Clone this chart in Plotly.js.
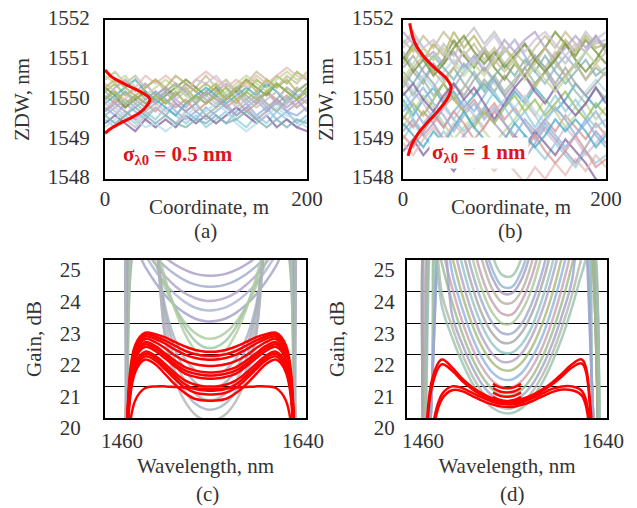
<!DOCTYPE html>
<html><head><meta charset="utf-8">
<script src="https://cdn.plot.ly/plotly-3.0.1.min.js"></script>
<style>html,body{margin:0;padding:0;background:#fff;}#chart{width:637px;height:508px;}</style>
</head><body><div id="chart"></div>
<script>
// ---------- panel (a),(b): ZDW along coordinate ----------
const coordM = [0,10,20,30,40,50,60,70,80,90,100,110,120,130,140,150,160,170,180,190,200];
const zdwA = [
[1550.2,1550.4,1550.1,1550.3,1550.0,1550.2,1549.9,1550.1,1550.3,1550.0,1550.2,1550.4,1550.1,1549.9,1550.2,1550.5,1550.3,1550.6,1550.4,1550.7,1550.5],
[1549.8,1549.6,1549.9,1549.7,1549.5,1549.8,1549.6,1549.9,1549.7,1549.5,1549.8,1549.6,1549.4,1549.7,1549.9,1549.6,1549.8,1549.5,1549.7,1549.4,1549.6],
[1550.0,1550.3,1550.5,1550.2,1550.4,1550.1,1550.3,1550.0,1549.8,1550.1,1549.9,1550.2,1550.4,1550.2,1549.9,1550.1,1549.8,1550.0,1549.7,1549.9,1550.1],
[1550.5,1550.7,1550.4,1550.6,1550.3,1550.5,1550.2,1550.4,1550.1,1550.3,1550.6,1550.3,1550.5,1550.2,1550.4,1550.7,1550.5,1550.3,1550.6,1550.4,1550.7],
[1549.5,1549.3,1549.6,1549.4,1549.7,1549.5,1549.8,1549.6,1549.4,1549.6,1549.3,1549.5,1549.7,1549.5,1549.3,1549.6,1549.4,1549.7,1549.5,1549.3,1549.5],
[1550.1,1549.9,1550.2,1550.0,1549.8,1550.1,1550.3,1550.1,1550.4,1550.2,1550.0,1549.8,1550.0,1550.3,1550.1,1549.9,1550.2,1550.0,1550.3,1550.1,1549.9],
[1549.7,1550.0,1549.8,1550.1,1549.9,1549.7,1550.0,1549.8,1550.0,1549.7,1549.9,1550.1,1549.8,1550.0,1549.7,1549.9,1550.2,1549.9,1550.1,1549.8,1550.0],
[1550.3,1550.1,1549.8,1550.0,1550.2,1549.9,1550.1,1550.3,1550.5,1550.3,1550.1,1550.3,1550.0,1550.2,1550.5,1550.3,1550.1,1550.4,1550.2,1550.0,1550.3],
[1549.4,1549.6,1549.4,1549.2,1549.5,1549.3,1549.5,1549.3,1549.6,1549.4,1549.6,1549.4,1549.6,1549.8,1549.6,1549.4,1549.6,1549.3,1549.5,1549.3,1549.2],
[1549.9,1550.1,1550.3,1550.5,1550.2,1550.0,1549.8,1549.6,1549.9,1550.1,1550.3,1550.1,1549.9,1550.1,1550.3,1550.1,1550.4,1550.2,1549.9,1550.2,1550.4],
[1550.6,1550.4,1550.6,1550.3,1550.1,1550.3,1550.5,1550.3,1550.1,1549.9,1550.2,1550.0,1550.2,1550.4,1550.6,1550.4,1550.2,1550.5,1550.7,1550.5,1550.6],
[1549.6,1549.8,1550.0,1549.8,1550.0,1550.2,1550.0,1549.7,1549.5,1549.7,1549.5,1549.7,1549.9,1549.6,1549.8,1550.0,1549.7,1549.9,1549.7,1549.6,1549.8],
[1550.0,1549.8,1549.6,1549.9,1550.1,1549.9,1549.7,1550.0,1550.2,1550.5,1550.4,1550.6,1550.3,1550.1,1549.9,1550.1,1549.9,1549.7,1549.9,1550.1,1550.2],
[1549.3,1549.5,1549.7,1549.5,1549.3,1549.4,1549.2,1549.4,1549.6,1549.8,1549.7,1549.9,1549.7,1549.4,1549.2,1549.4,1549.6,1549.8,1549.6,1549.5,1549.3],
[1550.4,1550.2,1550.0,1550.3,1550.6,1550.4,1550.6,1550.4,1550.2,1550.5,1550.7,1550.5,1550.3,1550.5,1550.3,1550.6,1550.4,1550.6,1550.8,1550.6,1550.5],
[1549.9,1549.7,1549.5,1549.3,1549.6,1549.8,1549.6,1549.4,1549.7,1549.9,1550.1,1549.9,1550.1,1549.8,1550.0,1549.8,1550.0,1550.2,1550.0,1549.8,1550.0],
[1550.2,1550.0,1550.2,1549.9,1549.7,1549.9,1550.2,1550.4,1550.2,1549.9,1549.6,1549.8,1550.1,1550.3,1550.0,1550.2,1549.9,1549.7,1550.0,1550.3,1550.1],
[1549.7,1549.9,1549.7,1549.5,1549.8,1550.0,1550.2,1549.9,1549.7,1549.9,1550.2,1550.0,1549.8,1549.6,1549.8,1549.5,1549.7,1550.0,1549.8,1550.0,1549.7],
[1550.3,1550.5,1550.3,1550.1,1550.3,1550.5,1550.3,1550.6,1550.4,1550.2,1550.4,1550.2,1550.0,1550.3,1550.5,1550.2,1550.5,1550.3,1550.5,1550.2,1550.4],
[1549.6,1549.4,1549.6,1549.8,1549.6,1549.4,1549.6,1549.4,1549.3,1549.5,1549.4,1549.6,1549.4,1549.5,1549.7,1549.5,1549.3,1549.5,1549.3,1549.5,1549.4],
[1550.0,1550.2,1549.9,1550.1,1549.9,1550.1,1549.9,1550.2,1549.9,1550.1,1549.9,1550.1,1550.3,1550.0,1550.2,1550.0,1550.2,1550.4,1550.2,1550.0,1550.2]
];
const zdwB = [
[1551.5,1551.2,1551.6,1551.3,1551.7,1551.4,1551.1,1551.4,1551.0,1551.3,1550.9,1551.2,1550.9,1551.3,1551.6,1551.3,1551.7,1551.4,1551.2,1551.5,1551.3],
[1549.0,1549.4,1549.1,1548.8,1549.2,1548.9,1548.5,1548.8,1548.4,1548.7,1549.0,1548.7,1549.1,1548.8,1548.5,1548.9,1548.6,1548.3,1548.7,1548.4,1548.6],
[1550.3,1550.7,1550.4,1550.9,1550.5,1550.8,1550.4,1550.1,1550.5,1550.2,1550.6,1550.3,1550.0,1550.4,1550.7,1550.3,1550.6,1550.9,1550.5,1550.8,1550.6],
[1549.6,1549.3,1549.7,1549.4,1549.8,1550.1,1549.7,1550.0,1549.6,1549.9,1549.5,1549.8,1549.4,1549.1,1549.5,1549.2,1549.6,1549.3,1549.0,1549.4,1549.1],
[1551.0,1551.4,1551.1,1550.7,1551.0,1551.5,1551.1,1550.8,1551.2,1550.8,1550.5,1550.9,1550.6,1551.0,1551.3,1551.7,1551.4,1551.1,1551.5,1551.2,1550.9],
[1548.7,1549.0,1548.6,1548.9,1548.5,1548.2,1548.6,1548.3,1548.7,1549.0,1548.7,1549.1,1548.8,1549.2,1548.9,1548.6,1549.0,1548.7,1548.4,1548.0,1547.8],
[1550.0,1549.6,1550.0,1550.3,1549.9,1550.2,1549.8,1550.1,1550.4,1550.1,1549.8,1550.2,1549.9,1550.3,1550.0,1549.7,1550.0,1550.4,1550.1,1549.8,1550.1],
[1549.3,1549.7,1550.1,1549.8,1549.4,1549.0,1549.3,1549.6,1549.2,1548.9,1549.2,1549.5,1549.9,1549.6,1550.0,1549.7,1549.3,1549.6,1549.9,1549.5,1549.8],
[1551.2,1550.8,1550.5,1550.9,1550.6,1550.3,1550.7,1551.0,1551.3,1550.9,1551.2,1551.5,1551.1,1550.7,1550.4,1550.8,1551.1,1550.8,1551.2,1551.6,1551.3],
[1550.6,1550.2,1549.9,1549.5,1549.8,1549.5,1549.9,1549.6,1549.3,1549.7,1550.0,1550.3,1550.0,1549.6,1549.2,1548.9,1549.3,1549.0,1548.6,1548.9,1549.2],
[1549.8,1550.2,1550.6,1550.3,1550.7,1551.0,1550.7,1551.1,1550.8,1550.4,1550.1,1549.8,1550.1,1549.7,1549.4,1549.8,1549.5,1549.8,1550.2,1550.5,1550.2],
[1548.9,1548.6,1549.0,1549.3,1549.0,1549.4,1549.1,1548.8,1548.5,1548.2,1548.5,1548.2,1547.9,1548.3,1548.0,1548.4,1548.1,1548.5,1548.2,1548.6,1548.3],
[1551.4,1551.7,1551.3,1551.0,1551.4,1551.1,1551.5,1551.8,1551.4,1551.7,1551.3,1551.0,1551.4,1551.1,1550.8,1551.2,1550.9,1551.3,1551.7,1551.4,1551.5],
[1550.5,1550.1,1550.5,1550.1,1550.4,1550.0,1550.3,1550.7,1550.3,1550.6,1550.2,1550.5,1550.8,1550.4,1550.7,1551.0,1550.6,1550.2,1549.9,1550.3,1550.0],
[1549.2,1549.5,1549.1,1549.4,1549.0,1548.7,1549.1,1549.4,1549.8,1549.4,1549.1,1548.8,1548.5,1548.9,1549.3,1549.0,1548.7,1548.4,1548.8,1549.2,1548.9],
[1550.9,1551.3,1551.0,1551.4,1551.1,1551.7,1551.3,1551.6,1551.2,1550.9,1551.3,1551.0,1550.6,1550.3,1550.7,1551.1,1551.5,1551.2,1551.6,1551.3,1551.4],
[1550.7,1550.4,1550.8,1551.1,1550.8,1550.5,1550.9,1550.6,1550.2,1550.6,1550.9,1550.6,1551.0,1550.7,1551.1,1550.7,1550.4,1550.7,1551.0,1550.6,1550.8],
[1549.5,1549.9,1549.6,1550.0,1550.4,1550.0,1549.7,1549.3,1549.7,1549.4,1549.8,1550.1,1549.7,1550.0,1549.6,1549.9,1550.2,1549.8,1549.5,1549.9,1549.6],
[1550.2,1549.8,1549.4,1549.7,1549.3,1549.7,1550.0,1549.7,1550.1,1550.5,1550.1,1549.7,1549.4,1549.0,1549.4,1549.1,1548.8,1549.1,1549.5,1549.1,1548.8],
[1551.7,1551.4,1551.0,1551.2,1550.9,1551.2,1550.8,1551.1,1550.7,1551.1,1551.5,1551.2,1551.5,1551.7,1551.3,1551.0,1551.3,1551.6,1551.3,1551.6,1551.2],
[1550.4,1550.8,1551.1,1550.7,1550.4,1550.8,1551.2,1550.9,1551.3,1551.0,1550.7,1551.0,1550.6,1550.9,1551.3,1550.9,1550.6,1550.9,1550.5,1550.9,1551.2],
[1549.9,1549.5,1549.2,1549.6,1549.9,1549.5,1549.2,1549.5,1549.8,1550.2,1549.8,1549.4,1549.7,1549.3,1549.7,1550.1,1549.7,1550.0,1549.6,1549.3,1549.5],
[1550.8,1551.1,1550.7,1550.4,1550.0,1550.4,1550.1,1550.5,1550.8,1550.5,1550.1,1550.4,1550.8,1551.1,1550.8,1550.4,1550.8,1550.4,1550.1,1550.4,1550.7],
[1549.1,1548.8,1549.2,1549.6,1549.3,1549.7,1549.4,1549.0,1549.3,1549.7,1549.4,1549.0,1548.7,1549.1,1548.7,1548.4,1548.7,1549.1,1548.7,1548.3,1548.5],
[1551.1,1550.7,1551.0,1550.6,1550.9,1551.3,1551.6,1551.2,1550.9,1551.2,1550.8,1551.1,1551.4,1551.0,1550.7,1551.0,1551.4,1551.0,1550.7,1551.0,1551.4],
[1550.1,1550.4,1550.0,1549.7,1550.1,1550.4,1550.0,1550.3,1549.9,1549.5,1549.9,1550.3,1550.6,1550.2,1549.9,1550.3,1549.9,1549.6,1549.9,1550.3,1549.9],
[1549.4,1549.1,1548.8,1549.2,1548.9,1549.3,1549.7,1549.3,1549.0,1548.7,1549.0,1549.4,1549.1,1548.8,1549.1,1549.5,1549.2,1549.5,1549.2,1548.8,1549.1],
[1550.5,1550.9,1551.3,1551.0,1551.3,1550.9,1550.6,1550.9,1550.6,1551.0,1551.3,1550.9,1550.5,1550.8,1550.5,1550.2,1550.5,1550.9,1551.2,1550.9,1550.6],
[1549.7,1550.0,1550.3,1549.9,1549.6,1549.2,1549.6,1549.9,1549.5,1549.8,1549.4,1549.1,1549.5,1549.2,1549.5,1549.8,1549.5,1549.1,1549.4,1549.7,1549.3],
[1551.3,1551.6,1551.3,1551.5,1551.2,1550.9,1551.2,1550.9,1551.3,1551.6,1551.2,1551.5,1551.2,1551.5,1551.7,1551.4,1551.1,1551.4,1551.2,1551.5,1551.7]
];
// Gaussian distribution outlines (red)
const gaussAX = [0,6.6,14.9,24.8,34.7,42.9,44.6,42.9,37.9,28.0,14.9,6.6,0];
const gaussAY = [1550.74,1550.57,1550.45,1550.32,1550.2,1550.07,1549.99,1549.9,1549.74,1549.57,1549.4,1549.28,1549.15];
const gaussBX = [6.6,11.3,19.2,31.8,42.7,47.5,44.3,34.9,23.9,14.5,8.2,5.0];
const gaussBY = [1551.92,1551.45,1551.12,1550.78,1550.53,1550.3,1550.05,1549.72,1549.42,1549.13,1548.84,1548.58];

// ---------- panel (c): gain spectra, sigma 0.5 nm ----------
const wlC = [1443,1453,1463,1473,1483,1493,1503,1513,1523,1533,1543,1553,1563,1573,1583,1593,1603,1613,1623,1633,1643];
const gainCGray = [
[10,13,19,26.1,25.7,25.36,25.07,24.85,24.68,24.56,24.51,24.51,24.56,24.68,24.85,25.07,25.36,25.7,26.1,19,13],
[10,12,17.5,25.95,25.48,25.1,24.79,24.54,24.35,24.22,24.16,24.16,24.22,24.35,24.54,24.79,25.1,25.48,25.95,17.5,12],
[10,13,18.5,25.85,25.33,24.87,24.48,24.17,23.94,23.79,23.71,23.72,23.8,23.96,24.2,24.5,24.9,25.35,25.9,18.5,13],
[10,14,19.5,25.35,24.78,24.29,23.88,23.55,23.31,23.14,23.06,23.07,23.15,23.32,23.57,23.9,24.31,24.8,25.38,19.5,14],
[10,13,18,25.76,25.16,24.66,24.24,23.91,23.66,23.49,23.41,23.42,23.5,23.67,23.92,24.25,24.67,25.17,25.78,18,13],
[10,12,17,26.9,25.85,24.91,24.11,23.48,23.0,22.68,22.52,22.53,22.7,23.02,23.5,24.13,24.93,25.88,26.9,17,12],
[10,13,18.5,27.5,26.6,25.33,24.3,23.47,22.85,22.43,22.23,22.24,22.44,22.86,23.48,24.31,25.34,26.6,27.5,18.5,13],
[10,14,19.5,28,27.2,25.66,24.4,23.39,22.64,22.13,21.88,21.89,22.14,22.65,23.4,24.41,25.67,27.2,28,19.5,14],
[10,13,18,28.5,28,25.6,23.5,22.45,21.85,21.5,21.33,21.34,21.52,21.87,22.47,23.52,25.62,28,28.5,18,13],
[10,12,17,29,28.5,25.8,23.3,22.15,21.5,21.12,20.93,20.94,21.13,21.52,22.17,23.32,25.82,28.5,29,17,12],
[10,14,19,29,29,26,23,21.8,21.15,20.76,20.58,20.59,20.77,21.16,21.82,23.02,26.02,29,29,19,14],
[10,13,18,29.5,29.5,26.2,22.6,21.45,20.82,20.45,20.28,20.29,20.46,20.83,21.47,22.62,26.22,29.5,29.5,18,13],
[10,14,19.5,30,30,26.5,22.5,21.2,20.5,20.1,19.93,19.94,20.12,20.52,21.22,22.52,26.52,30,30,19.5,14]
];
const gainCRed = [
[10,13,18.8,22.3,22.7,22.65,22.55,22.4,22.26,22.15,22.1,22.1,22.15,22.26,22.4,22.55,22.65,22.7,22.3,18.8,13],
[10,13,18.7,22.2,22.64,22.58,22.45,22.28,22.12,22.02,21.97,21.97,22.02,22.12,22.28,22.45,22.58,22.64,22.2,18.7,13],
[10,13,18.6,22.15,22.58,22.5,22.35,22.16,22.0,21.9,21.85,21.85,21.9,22.0,22.16,22.35,22.5,22.58,22.15,18.6,13],
[10,13,18.9,22.05,22.5,22.4,22.2,21.97,21.8,21.7,21.65,21.65,21.7,21.8,21.97,22.2,22.4,22.5,22.05,18.9,13],
[10,13,18.5,21.95,22.4,22.28,22.04,21.8,21.6,21.5,21.45,21.45,21.5,21.6,21.8,22.04,22.28,22.4,21.95,18.5,13],
[10,13,18.5,21.9,22.33,22.2,21.97,21.7,21.5,21.4,21.35,21.35,21.4,21.5,21.7,21.97,22.2,22.33,21.9,18.5,13],
[10,13,18.7,21.85,22.25,22.12,21.88,21.62,21.4,21.3,21.25,21.25,21.3,21.4,21.62,21.88,22.12,22.25,21.85,18.7,13],
[10,13,18.4,21.7,22.1,21.97,21.7,21.42,21.18,21.05,21.0,21.0,21.05,21.18,21.42,21.7,21.97,22.1,21.7,18.4,13],
[10,13,18.4,21.65,22.03,21.9,21.6,21.32,21.06,20.92,20.87,20.87,20.92,21.06,21.32,21.6,21.9,22.03,21.65,18.4,13],
[10,13,18.6,21.55,21.95,21.82,21.53,21.22,20.95,20.8,20.75,20.75,20.8,20.95,21.22,21.53,21.82,21.95,21.55,18.6,13],
[10,13,18.3,21.45,21.85,21.7,21.38,21.05,20.78,20.6,20.55,20.55,20.6,20.78,21.05,21.38,21.7,21.85,21.45,18.3,13],
[10,13,18.0,20.55,20.95,21.0,21.0,20.98,20.96,20.94,20.92,20.92,20.94,20.96,20.98,21.0,21.0,20.95,20.55,18.0,13]
];

// ---------- panel (d): gain spectra, sigma 1 nm ----------
const wlD = [1439,1449,1459,1469,1479,1489,1499,1509,1519,1529,1539,1549,1559,1569,1579,1589,1599,1609,1619,1629,1639,1649];
const gainDGray = [
[10,12,15,28,28,28,28,28,26.5,25.18,24.53,24.5,25.1,26.4,28,28,28,28,28,25.5,15,10],
[10,12,14,21,28,28,28,27,25.46,24.46,23.96,23.95,24.42,25.4,26.9,28,28,28,28,21,13,10],
[10,12,14,21,28,28,28,27.5,25.84,24.73,24.17,24.15,24.7,25.8,27.4,28,28,28,28,21,13,10],
[10,13,17,28,28,28,28,26.34,25.0,24.1,23.66,23.65,24.05,24.95,26.3,28,28,28,28,26,14,10],
[10,12,15,28,28,28,27.2,25.63,24.46,23.69,23.3,23.28,23.72,24.5,25.7,27.3,28,28,28,25.5,15,10],
[10,12,14,21,28,28,26.54,25.12,24.06,23.35,22.99,23.0,23.4,24.1,25.2,26.6,28,28,28,21,13,10],
[10,13,17,28,28,27.5,25.95,24.64,23.67,23.02,22.69,22.68,23.0,23.65,24.6,25.9,27.5,28,28,26,14,10],
[10,12,15,28,28,26.9,25.39,24.19,23.29,22.69,22.39,22.4,22.72,23.32,24.22,25.42,26.95,28,28,25.5,15,10],
[10,12,14,21,28,26.27,24.87,23.76,22.92,22.36,22.08,22.07,22.35,22.9,23.75,24.85,26.25,28,28,21,13,10],
[10,13,17,28,27.2,25.68,24.38,23.34,22.56,22.04,21.78,21.8,22.06,22.6,23.38,24.42,25.72,27.3,28,26,14,10],
[10,12,15,28,26.57,25.13,23.93,22.97,22.25,21.77,21.53,21.52,21.76,22.24,22.96,23.9,25.1,26.5,28,25.5,15,10],
[10,12,14,21,27,24.62,23.49,22.58,21.91,21.45,21.23,21.22,21.44,21.9,22.56,23.47,24.6,25.95,27.5,21,13,10],
[10,13,17,27,25.4,24.14,23.08,22.24,21.61,21.19,20.98,20.97,21.18,21.6,22.22,23.06,24.12,25.38,26.8,26,14,10],
[10,12,15,26.26,24.87,23.68,22.7,21.91,21.32,20.92,20.72,20.71,20.9,21.3,21.9,22.68,23.66,24.85,26.2,25.5,15,10],
[10,12,14,21,27,23.28,22.36,21.63,21.07,20.71,20.52,20.51,20.7,21.05,21.6,22.33,23.25,24.35,27,21,13,10],
[10,13,17,27,23.92,22.9,22.04,21.35,20.84,20.49,20.32,20.31,20.48,20.82,21.33,22.02,22.88,23.9,25.1,26,14,10],
[10,12,15,26,23.52,22.56,21.77,21.12,20.65,20.33,20.17,20.16,20.32,20.63,21.1,21.75,22.54,23.5,24.6,25.5,15,10]
];
const gainDRed = [
[10,12,16,21.2,21.85,21.6,21.25,20.98,20.78,20.63,20.54,20.53,20.6,20.72,20.9,21.12,21.4,21.7,21.85,19.8,14,10],
[10,12,15.5,21.0,21.7,21.5,21.18,20.92,20.72,20.58,20.5,20.49,20.56,20.68,20.85,21.06,21.32,21.6,21.72,19.5,14,10],
[10,11,14,19.6,20.75,21.0,20.95,20.8,20.65,20.52,20.44,20.43,20.5,20.62,20.77,20.92,21.0,21.0,20.85,19.2,13,10],
[10,11,13.5,19.3,20.6,20.88,20.85,20.7,20.55,20.43,20.36,20.35,20.42,20.53,20.68,20.82,20.9,20.88,20.7,18.8,13,10]
];
const wlDMid = [1530,1537,1544,1551,1558];
const gainDRedMid = [
[21.08,20.97,20.94,20.97,21.08],
[20.95,20.84,20.81,20.84,20.95],
[20.8,20.7,20.67,20.7,20.8],
[20.67,20.57,20.54,20.57,20.67]
];

// ---------- styles ----------
const palA = ['#9bbb59','#8eb4e3','#b3a2c7','#c4bd97','#93cddd','#a6a6a6','#d99694','#77933c','#8064a2','#4bacc6','#c3d69b','#95b3d7','#ccc1da','#b7dee8','#e6b9b8','#bfbfbf','#9fb8a8','#a9a0c0','#b8b36b','#7fb3b3'];
const palC = ['#a79cc4','#9fa9cc','#b1a3c6','#a3a0c8','#aab3cf','#a9c99b','#9dc3a6','#b2cc9f','#a8afbd','#9eaabf','#b3b1b8','#a6acc4','#b0b4b8'];
const palD = ['#9dc3a6','#a79cc4','#8fb8cf','#b8b0a0','#c4a0b0','#a9c99b','#9fa9cc','#a6a6a6','#93c4c4','#b3a2c7','#a8b87a','#8eb4e3','#c9a3b0','#9bbb8f','#a3a0c8','#b0b8a8','#98c0b0'];
const RED = '#ff0000';
const FONT = 'Liberation Serif';
const TXT = '#333333';

const traces = [];
function line(x, y, xa, ya, color, width, opacity, shape) {
  traces.push({type:'scatter', mode:'lines', x:x, y:y, xaxis:xa, yaxis:ya,
    line:{color:color, width:width, shape:shape||'linear'}, opacity:opacity,
    hoverinfo:'skip', showlegend:false});
}
zdwA.forEach((ys,k)=>line(coordM, ys, 'x', 'y', palA[k%palA.length], 2.2, 0.75));
line(gaussAX, gaussAY, 'x', 'y', RED, 3, 1, 'spline');
zdwB.forEach((ys,k)=>line(coordM, ys, 'x2', 'y2', palA[(k+3)%palA.length], 2.2, 0.75));
line(gaussBX, gaussBY, 'x2', 'y2', RED, 3, 1, 'spline');
gainCGray.forEach((ys,k)=>line(wlC, ys, 'x3', 'y3', palC[k%palC.length], 2.5, 0.8, 'spline'));
gainCRed.forEach(ys=>line(wlC, ys, 'x3', 'y3', RED, 2.5, 1, 'spline'));
gainDGray.forEach((ys,k)=>line(wlD, ys, 'x4', 'y4', palD[k%palD.length], 2.5, 0.8, 'spline'));
gainDRedMid.forEach(ys=>line(wlDMid, ys, 'x4', 'y4', RED, 2.5, 1, 'spline'));
gainDRed.forEach(ys=>line(wlD, ys, 'x4', 'y4', RED, 2.5, 1, 'spline'));

const W = 637, H = 508;
const px = v => v / W, py = v => 1 - v / H;
const frame = {showline:true, mirror:true, linecolor:'#000', linewidth:2, ticks:'', zeroline:false, showgrid:false,
  tickfont:{family:FONT, size:21, color:TXT}};
function ax(extra){ return Object.assign({}, frame, extra); }
const tfont = {family:FONT, size:21, color:TXT};

const layout = {
  width:W, height:H, margin:{l:0,r:0,t:0,b:0}, showlegend:false,
  paper_bgcolor:'#fff', plot_bgcolor:'#fff',
  font:{family:FONT, size:21, color:TXT},
  xaxis: ax({domain:[px(105),px(307)], range:[0,200], tickvals:[0,200], anchor:'y', ticklabelstandoff:0}),
  yaxis: ax({domain:[py(179),py(20)], range:[1548,1552], tickvals:[1548,1549,1550,1551,1552], anchor:'x',
    ticklabelstandoff:9, ticklabelshift:-2, title:{text:'ZDW, nm', font:tfont, standoff:12}}),
  xaxis2: ax({domain:[px(403),px(606)], range:[0,200], tickvals:[0,200], anchor:'y2', ticklabelstandoff:0}),
  yaxis2: ax({domain:[py(179),py(20)], range:[1548,1552], tickvals:[1548,1549,1550,1551,1552], anchor:'x2',
    ticklabelstandoff:3, ticklabelshift:-2, title:{text:'ZDW, nm', font:tfont, standoff:12}}),
  xaxis3: ax({domain:[px(105),px(306)], range:[1443,1643], tickvals:[1460,1640], anchor:'y3', ticklabelstandoff:3,
    title:{text:'Wavelength, nm', font:tfont, standoff:6}}),
  yaxis3: ax({domain:[py(418),py(260)], range:[20,25], tickvals:[20,21,22,23,24,25], anchor:'x3',
    showgrid:true, gridcolor:'#000', gridwidth:1.3, ticklabelstandoff:18, ticklabelshift:10,
    title:{text:'Gain, dB', font:tfont, standoff:12}}),
  xaxis4: ax({domain:[px(407),px(607)], range:[1444,1644], tickvals:[1460,1640], anchor:'y4', ticklabelstandoff:3,
    title:{text:'Wavelength, nm', font:tfont, standoff:6}}),
  yaxis4: ax({domain:[py(418),py(260)], range:[20,25], tickvals:[20,21,22,23,24,25], anchor:'x4',
    showgrid:true, gridcolor:'#000', gridwidth:1.3, ticklabelstandoff:6, ticklabelshift:10,
    title:{text:'Gain, dB', font:tfont, standoff:23}}),
  annotations: [
    {text:'Coordinate, m', xref:'paper', yref:'paper', x:px(209), y:py(207), xanchor:'center', yanchor:'middle', showarrow:false, font:tfont},
    {text:'Coordinate, m', xref:'paper', yref:'paper', x:px(511), y:py(207), xanchor:'center', yanchor:'middle', showarrow:false, font:tfont},
    {text:'(a)', xref:'paper', yref:'paper', x:px(205), y:py(231), xanchor:'center', yanchor:'middle', showarrow:false, font:tfont},
    {text:'(b)', xref:'paper', yref:'paper', x:px(510), y:py(231), xanchor:'center', yanchor:'middle', showarrow:false, font:tfont},
    {text:'(c)', xref:'paper', yref:'paper', x:px(208), y:py(494), xanchor:'center', yanchor:'middle', showarrow:false, font:tfont},
    {text:'(d)', xref:'paper', yref:'paper', x:px(512), y:py(494), xanchor:'center', yanchor:'middle', showarrow:false, font:tfont},
    {text:'<b>σ<sub>λ0</sub> = 0.5 nm</b>', xref:'paper', yref:'paper', x:px(178), y:py(155), xanchor:'center', yanchor:'middle',
      showarrow:false, font:{family:FONT, size:21, color:'#dc1420'}},
    {text:'<b>σ<sub>λ0</sub> = 1 nm</b>', xref:'paper', yref:'paper', x:px(479), y:py(153), xanchor:'center', yanchor:'middle',
      showarrow:false, bgcolor:'#ffffff', borderpad:2, font:{family:FONT, size:21, color:'#dc1420'}}
  ]
};
Plotly.newPlot('chart', traces, layout, {staticPlot:true, displayModeBar:false});
</script></body></html>
